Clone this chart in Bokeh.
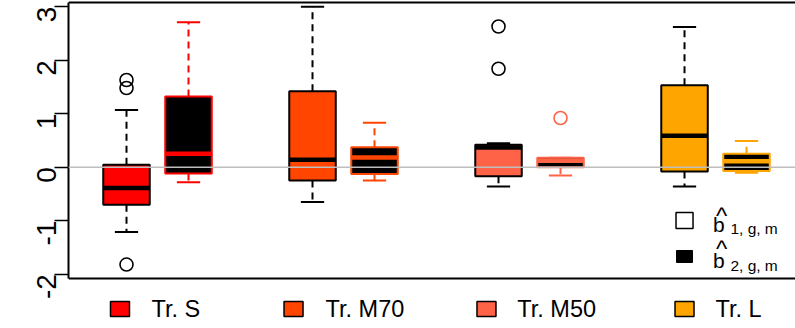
import math
from bokeh.plotting import figure
from bokeh.models import Range1d, FixedTicker, Span
from bokeh.core.properties import value
from bokeh.embed import file_html
from bokeh.resources import INLINE

FONT = "Liberation Sans"

# ---------------- data ----------------
groups = ["Tr. S", "Tr. M70", "Tr. M50", "Tr. L"]
colors = ["#FF0000", "#FF4500", "#FF6347", "#FFA500"]
pos_b1 = [1, 4, 7, 10]
pos_b2 = [2, 5, 8, 11]

# b-hat 1 (group colour fill, black lines)
b1_lo = [-1.21, -0.65, -0.36, -0.36]
b1_q1 = [-0.70, -0.25, -0.17, -0.08]
b1_med = [-0.39, 0.14, 0.37, 0.59]
b1_q3 = [0.045, 1.42, 0.42, 1.53]
b1_hi = [1.07, 3.00, 0.45, 2.62]
b1_out = [[1.63, 1.48, -1.82], [], [2.63, 1.84], []]

# b-hat 2 (black fill, group colour lines)
b2_lo = [-0.28, -0.25, -0.155, -0.105]
b2_q1 = [-0.12, -0.125, 0.0, -0.07]
b2_med = [0.25, 0.18, 0.12, 0.11]
b2_q3 = [1.32, 0.374, 0.175, 0.25]
b2_hi = [2.71, 0.83, 0.175, 0.49]
b2_out = [[], [], [0.92], []]

y_ticks = [-2, -1, 0, 1, 2, 3]
y_tick_labels = ["-2", "-1", "0", "1", "2", "3"]
legend2_labels = ["1, g, m", "2, g, m"]

# plot-region limits (R's box) and layout helpers
Y_BOX = (-2.080, 3.079)
BOX_W = 0.75
CAP_W = 0.375

# ---------------- figure ----------------
p = figure(width=795, height=328, output_backend="svg", toolbar_location=None,
           x_range=Range1d(0.0645, 11.79), y_range=Range1d(-3.015, 3.116),
           min_border_left=68, min_border_right=0, min_border_top=0, min_border_bottom=0)
p.grid.visible = False
p.outline_line_color = None
p.background_fill_color = "white"
p.border_fill_color = "white"
p.xaxis.visible = False

yax = p.yaxis[0]
yax.ticker = FixedTicker(ticks=y_ticks)
yax.major_label_overrides = dict(zip(y_ticks, y_tick_labels))
yax.bounds = Y_BOX
yax.minor_tick_line_color = None
yax.major_tick_out = 14
yax.major_tick_in = 0
yax.major_tick_line_width = 1.5
yax.axis_line_width = 2
yax.major_label_orientation = math.pi / 2
yax.major_label_text_font = FONT
yax.major_label_text_font_size = "28px"
yax.major_label_text_color = "black"
yax.major_label_standoff = 8

# box top & bottom borders
p.add_layout(Span(location=Y_BOX[1], dimension="width", line_color="black", line_width=2))
p.add_layout(Span(location=Y_BOX[0], dimension="width", line_color="black", line_width=2))


def draw_boxes(xs, lo, q1, med, q3, hi, outs, fills, lines, med_cols):
    for i, x in enumerate(xs):
        lc = lines[i]
        # whiskers (dashed)
        p.segment(x0=[x, x], y0=[q3[i], q1[i]], x1=[x, x], y1=[hi[i], lo[i]],
                  line_color=lc, line_width=2, line_dash="7 5")
        # caps
        p.segment(x0=[x - CAP_W / 2, x - CAP_W / 2], y0=[hi[i], lo[i]],
                  x1=[x + CAP_W / 2, x + CAP_W / 2], y1=[hi[i], lo[i]],
                  line_color=lc, line_width=2)
        # box
        p.vbar(x=[x], width=BOX_W, bottom=[q1[i]], top=[q3[i]],
               fill_color=fills[i], line_color=lc, line_width=2)
        # median
        p.segment(x0=[x - BOX_W / 2], y0=[med[i]], x1=[x + BOX_W / 2], y1=[med[i]],
                  line_color=med_cols[i], line_width=4.5)
        if outs[i]:
            p.scatter(x=[x] * len(outs[i]), y=outs[i], marker="circle", size=13,
                      fill_color=None, line_color=lc, line_width=1.6)


draw_boxes(pos_b1, b1_lo, b1_q1, b1_med, b1_q3, b1_hi, b1_out,
           colors, ["black"] * 4, ["black"] * 4)
draw_boxes(pos_b2, b2_lo, b2_q1, b2_med, b2_q3, b2_hi, b2_out,
           ["black"] * 4, colors, colors)

# zero reference line
p.add_layout(Span(location=0, dimension="width", line_color="#BEBEBE", line_width=1.5))

# inner legend (b-hat 1 / b-hat 2)
p.rect(x=[10.0], y=[-0.996], width=17, height=16, width_units="screen", height_units="screen",
       fill_color="white", line_color="black", line_width=1.5)
p.rect(x=[10.0], y=[-1.669], width=16, height=12, width_units="screen", height_units="screen",
       fill_color="black", line_color="black", line_width=1)
p.text(x=[10.46, 10.46], y=[-1.066, -1.752], text=["b", "b"], text_font=value(FONT),
       text_font_size="21px", text_baseline="alphabetic", text_align="left", text_color="black")
p.text(x=[10.60, 10.60], y=[-0.905, -1.522], text=["^", "^"], text_font=value(FONT),
       text_font_size="24px", text_baseline="alphabetic", text_align="center", text_color="black")
p.text(x=[10.74, 10.74], y=[-1.148, -1.830], text=legend2_labels, text_font=value(FONT),
       text_font_size="15.5px", text_baseline="alphabetic", text_align="left", text_color="black")

# bottom legend (below the box)
sq_x = [0.895, 3.694, 6.806, 10.0]
txt_x = [1.403, 4.210, 7.302, 10.50]
p.rect(x=sq_x, y=[-2.649] * 4, width=19, height=15, width_units="screen", height_units="screen",
       fill_color=colors, line_color="black", line_width=1.5)
p.text(x=txt_x, y=[-2.650] * 4, text=groups, text_font=value(FONT), text_font_size="23.5px",
       text_baseline="alphabetic", text_align="left", text_color="black")

open("out.html", "w").write(file_html(p, INLINE))
